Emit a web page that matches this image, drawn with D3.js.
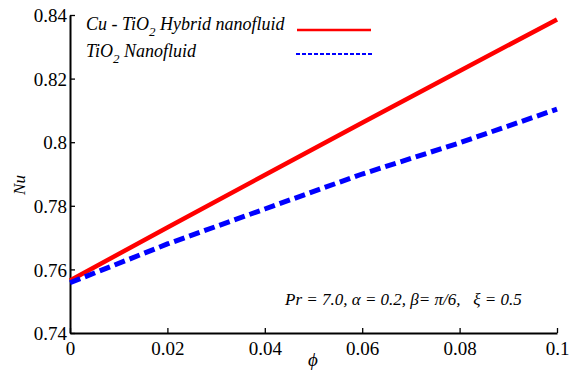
<!DOCTYPE html>
<html><head><meta charset="utf-8">
<script src="https://cdn.jsdelivr.net/npm/d3@7"></script>
<style>body{margin:0;background:#fff}svg{display:block}</style>
</head><body><svg id="c" width="575" height="373" font-family="Liberation Serif"></svg>
<script>
const phi = [0, 0.02, 0.04, 0.06, 0.08, 0.1];
const hybrid = [0.7565, 0.7732, 0.7897, 0.8061, 0.8224, 0.8386];
const tio2 = [0.7558, 0.7680, 0.7790, 0.7900, 0.7998, 0.8104];
const xTicks = [0, 0.02, 0.04, 0.06, 0.08, 0.1];
const yTicks = [0.74, 0.76, 0.78, 0.8, 0.82, 0.84];
const seriesNames = ["Cu - TiO", "TiO"];

const svg = d3.select("#c");
const x = d3.scaleLinear().domain([0, 0.1]).range([70, 557]);
const y = d3.scaleLinear().domain([0.74, 0.84]).range([333, 15]);

const xAxis = svg.append("g").attr("transform", "translate(0,333)")
  .call(d3.axisBottom(x).tickValues(xTicks).tickSizeInner(-5).tickSizeOuter(0).tickPadding(9).tickFormat(d => d === 0 ? "0" : d3.format("~g")(d)));
const yAxis = svg.append("g").attr("transform", "translate(70,0)")
  .call(d3.axisLeft(y).tickValues(yTicks).tickSizeInner(-5).tickSizeOuter(0).tickPadding(3).tickFormat(d3.format("~g")));
[xAxis, yAxis].forEach(a => {
  a.attr("font-family", "Liberation Serif").attr("font-size", 19);
  a.selectAll("path").attr("stroke", "#000").attr("stroke-width", 2);
  a.selectAll("line").attr("stroke", "#000").attr("stroke-width", 1.3);
  a.selectAll("text").attr("font-size", 19).attr("fill", "#000");
});
xAxis.selectAll("text").attr("dy", "0.71em");
yAxis.selectAll("text").attr("dy", "0.35em");

const line = d3.line().x((d, i) => x(phi[i])).y(d => y(d));
svg.append("path").datum(hybrid).attr("d", line).attr("fill", "none")
  .attr("stroke", "#ff0000").attr("stroke-width", 4.5);
svg.append("path").datum(tio2).attr("d", line).attr("fill", "none")
  .attr("stroke", "#0000ff").attr("stroke-width", 5).attr("stroke-dasharray", "11,5");

svg.append("text").attr("transform", "translate(25,185) rotate(-90)")
  .attr("text-anchor", "middle").attr("font-size", 17).attr("font-style", "italic").text("Nu");
svg.append("text").attr("x", 313).attr("y", 366).attr("text-anchor", "middle")
  .attr("font-size", 19).attr("font-style", "italic").text("ϕ");

function legendText(yy, name, rest) {
  const t = svg.append("text").attr("x", 86).attr("y", yy)
    .attr("font-size", 18).attr("font-style", "italic");
  t.append("tspan").text(name);
  t.append("tspan").attr("font-size", 13).attr("dy", 6).text("2");
  t.append("tspan").attr("dy", -6).text(rest);
}
legendText(30, seriesNames[0], " Hybrid nanofluid");
legendText(57, seriesNames[1], " Nanofluid");
svg.append("line").attr("x1", 297).attr("x2", 371).attr("y1", 30).attr("y2", 30)
  .attr("stroke", "#ff0000").attr("stroke-width", 2.5);
svg.append("line").attr("x1", 296).attr("x2", 372).attr("y1", 54).attr("y2", 54)
  .attr("stroke", "#0000ff").attr("stroke-width", 2).attr("stroke-dasharray", "4,2");

svg.append("text").attr("x", 285).attr("y", 305)
  .attr("font-size", 17).attr("font-style", "italic")
  .text("Pr = 7.0, α = 0.2, β= π/6,\u00a0\u00a0\u00a0ξ = 0.5");

svg.selectAll("text, tspan").attr("font-family", "Liberation Serif");
svg.selectAll("text").attr("style", function() {
  const it = this.getAttribute("font-style") === "italic" ? "font-style:italic;" : "";
  return "font-family:'Liberation Serif';" + it + "font-size:" + this.getAttribute("font-size") + "px";
});
</script></body></html>
